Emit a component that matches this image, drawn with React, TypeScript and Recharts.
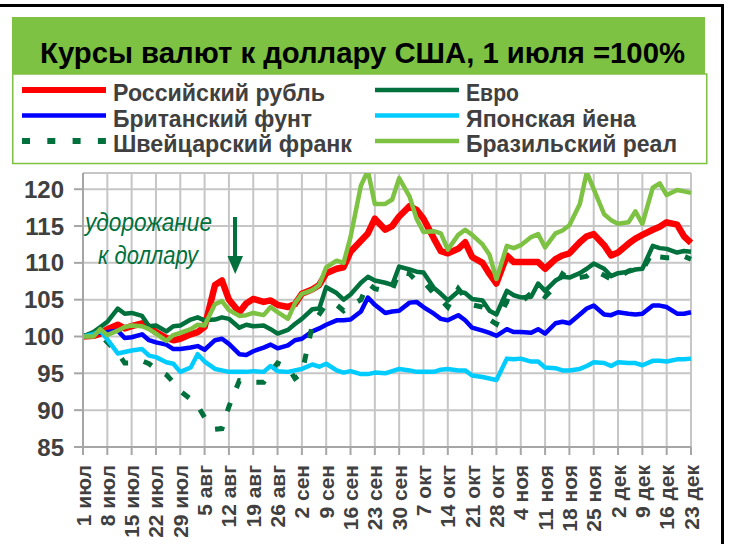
import { LineChart, Line, XAxis, YAxis, CartesianGrid } from 'recharts'

// дни от 1 июля (пн, ср, пт каждой недели)
const DAYS = [0, 3, 5, 7, 10, 12, 14, 17, 19, 21, 24, 26, 28, 31, 33, 35, 38, 40, 42, 45, 47, 49, 52, 54, 56, 59, 61, 63, 66, 68, 70, 73, 75, 77, 80, 82, 84, 87, 89, 91, 94, 96, 98, 101, 103, 105, 108, 110, 112, 115, 117, 119, 122, 124, 126, 129, 131, 133, 136, 138, 140, 143, 145, 147, 150, 152, 154, 157, 159, 161, 164, 166, 168, 171, 173, 175]

const TICK_LABELS = ['1 июл', '8 июл', '15 июл', '22 июл', '29 июл', '5 авг', '12 авг', '19 авг', '26 авг', '2 сен', '9 сен', '16 сен', '23 сен', '30 сен', '7 окт', '14 окт', '21 окт', '28 окт', '4 ноя', '11 ноя', '18 ноя', '25 ноя', '2 дек', '9 дек', '16 дек', '23 дек']
const Y_TICKS = [85, 90, 95, 100, 105, 110, 115, 120]

const RUB = [100, 100.1, 100.4, 101.0, 101.6, 101.1, 101.4, 101.8, 101.3, 100.6, 99.8, 99.5, 99.7, 100.3, 100.6, 101.3, 107.0, 107.6, 105.0, 103.3, 104.5, 105.1, 104.7, 104.9, 104.3, 104.0, 104.4, 105.8, 106.4, 107.0, 108.6, 109.2, 109.4, 111.5, 113.0, 114.0, 116.0, 114.5, 115.0, 116.3, 117.7, 117.2, 116.0, 113.3, 111.6, 111.3, 111.9, 112.8, 110.8, 110.0, 108.5, 107.2, 111.0, 110.1, 110.1, 110.1, 110.1, 109.2, 110.5, 111.0, 111.3, 112.8, 113.6, 113.9, 112.4, 111.0, 111.4, 112.6, 113.3, 113.8, 114.5, 114.9, 115.5, 115.2, 113.6, 112.7]
const EUR = [100, 100.6, 101.3, 102.0, 103.8, 103.1, 103.2, 102.8, 101.4, 101.5, 100.7, 101.4, 101.5, 102.3, 102.6, 102.2, 102.3, 102.6, 102.4, 101.2, 101.6, 101.4, 101.5, 101.0, 100.4, 100.9, 101.7, 102.4, 103.7, 103.8, 106.7, 105.9, 105.0, 105.7, 107.3, 108.1, 107.6, 107.3, 107.0, 109.5, 109.1, 108.8, 108.7, 106.6, 105.8, 104.9, 106.1, 105.9, 105.1, 104.9, 103.5, 103.0, 106.2, 105.6, 105.3, 105.4, 107.2, 106.2, 107.6, 108.1, 108.0, 108.6, 109.2, 109.9, 109.2, 108.2, 108.6, 108.8, 109.1, 109.2, 112.3, 112.0, 111.9, 111.4, 111.6, 111.5]
const GBP = [100, 100.5, 100.5, 100.6, 100.8, 99.8, 99.9, 100.3, 99.5, 99.2, 98.9, 98.3, 98.3, 98.5, 98.7, 98.2, 99.5, 99.7, 99.0, 97.6, 97.5, 98.0, 98.5, 98.9, 98.4, 98.8, 99.5, 99.7, 100.7, 101.1, 101.6, 102.2, 102.2, 102.3, 103.4, 105.3, 104.3, 103.2, 103.4, 103.5, 104.6, 104.7, 104.0, 103.1, 102.4, 102.2, 102.9, 102.2, 101.2, 100.8, 100.5, 100.1, 101.0, 100.6, 100.6, 100.5, 101.0, 100.4, 101.8, 102.0, 101.8, 103.0, 103.8, 104.2, 103.0, 102.9, 103.3, 103.1, 103.0, 103.1, 104.2, 104.2, 104.0, 103.1, 103.1, 103.3]
const JPY = [100, 100.3, 100.8, 99.6, 97.7, 97.9, 98.1, 98.3, 97.4, 97.2, 96.5, 96.3, 95.2, 95.8, 97.6, 96.6, 95.6, 95.4, 95.2, 95.2, 95.2, 95.3, 95.2, 96.0, 95.3, 95.2, 95.4, 95.6, 96.2, 95.9, 96.3, 95.4, 95.1, 95.3, 94.9, 94.9, 95.1, 95.0, 95.3, 95.6, 95.4, 95.2, 95.2, 95.2, 95.5, 95.6, 95.4, 95.4, 94.7, 94.5, 94.3, 94.1, 97.0, 96.9, 97.0, 96.6, 96.6, 95.8, 95.7, 95.4, 95.4, 95.6, 96.0, 96.5, 96.4, 96.0, 96.5, 96.4, 96.4, 96.1, 96.7, 96.7, 96.6, 96.9, 96.9, 97.0]
const CHF = [100, 100.4, 100.3, 99.2, 97.8, 96.4, 96.4, 96.7, 96.3, 95.6, 94.8, 93.8, 92.6, 91.5, 90.6, 89.0, 87.4, 87.5, 90.5, 94.0, 93.9, 93.8, 93.8, 95.2, 96.4, 95.8, 94.3, 95.0, 101.5, 103.0, 104.4, 104.3, 103.5, 104.2, 105.0, 107.2, 106.5, 106.2, 106.3, 108.8, 108.5, 107.5, 107.5, 105.8, 105.0, 104.0, 106.5, 105.3, 104.3, 104.0, 102.3, 101.7, 104.8, 104.5, 104.6, 105.9, 106.3, 105.4, 106.8, 108.5, 107.8, 108.0, 108.2, 109.0, 108.3, 107.8, 108.0, 108.9, 109.2, 109.0, 111.5, 110.8, 110.7, 110.7, 110.9, 110.5]
const BRL = [100, 100.0, 101.0, 100.2, 100.8, 101.3, 101.5, 101.4, 101.0, 100.4, 99.4, 100.2, 100.5, 101.0, 101.6, 101.5, 104.4, 104.8, 103.6, 102.8, 102.9, 103.2, 102.9, 104.0, 103.3, 102.4, 104.5, 105.8, 106.3, 107.0, 109.4, 110.3, 110.0, 113.5, 120.5, 122.5, 118.0, 118.0, 118.6, 121.5, 119.0, 116.0, 114.2, 114.3, 114.0, 111.8, 113.8, 114.5, 113.8, 112.5, 111.1, 107.8, 112.3, 112.0, 112.4, 113.5, 113.9, 112.1, 114.0, 114.4, 115.1, 118.0, 122.3, 120.0, 116.6, 115.8, 115.3, 115.5, 117.0, 115.3, 120.2, 120.8, 119.2, 119.9, 119.7, 119.5]

const RED = '#ff0000'
const DKGREEN = '#00703c'
const BLUE = '#0000ff'
const CYAN = '#00ccff'
const LTGREEN = '#7dc242'
const TEXT = '#404040'
const FONT = '"Liberation Sans", Arial, sans-serif'

const data = DAYS.map((day, i) => ({
  day, rub: RUB[i], eur: EUR[i], gbp: GBP[i], jpy: JPY[i], chf: CHF[i], brl: BRL[i],
}))

const LEGEND = [
  { name: 'Российский рубль', color: RED, w: 6, dash: undefined, col: 0, row: 0, len: 212 },
  { name: 'Евро', color: DKGREEN, w: 4.5, dash: undefined, col: 1, row: 0, len: 53 },
  { name: 'Британский фунт', color: BLUE, w: 4.5, dash: undefined, col: 0, row: 1, len: 199 },
  { name: 'Японская йена', color: CYAN, w: 4.5, dash: undefined, col: 1, row: 1, len: 170 },
  { name: 'Швейцарский франк', color: DKGREEN, w: 6, dash: '8 17.3', col: 0, row: 2, len: 239 },
  { name: 'Бразильский реал', color: LTGREEN, w: 4.5, dash: undefined, col: 1, row: 2, len: 211 },
]

function XTick(props: any) {
  const { x, y, payload } = props
  const label = TICK_LABELS[Math.round(payload.value / 7)]
  return (
    <text transform={`translate(${x},${y + 8}) rotate(-90)`} textAnchor="end" dominantBaseline="central"
      fontFamily={FONT} fontWeight="bold" fontSize={21} fill={TEXT}>{label}</text>
  )
}

function Overlay() {
  const colX = [22, 375]
  const baseY = [101, 126.5, 152]
  return (
    <svg width={731} height={544} style={{ position: 'absolute', left: 0, top: 0, pointerEvents: 'none' }}>
      <rect x={0} y={4} width={724} height={3} fill="#000" />
      <rect x={721} y={4} width={3} height={540} fill="#000" />
      <rect x={12} y={17} width={693} height={57} fill={LTGREEN} />
      <text x={362.5} y={62.5} textAnchor="middle" fontFamily={FONT} fontWeight="bold" fontSize={30} fill="#000"
        textLength={645} lengthAdjust="spacingAndGlyphs">Курсы валют к доллару США, 1 июля =100%</text>
      <rect x={12.75} y={74} width={694} height={89.5} fill="#fff" stroke={LTGREEN} strokeWidth={1.5} />
      {LEGEND.map((s) => (
        <g key={s.name}>
          <line x1={colX[s.col]} x2={colX[s.col] + 84} y1={baseY[s.row] - 11} y2={baseY[s.row] - 11}
            stroke={s.color} strokeWidth={s.w} strokeDasharray={s.dash} />
          <text x={colX[s.col] + 91} y={baseY[s.row]} fontFamily={FONT} fontWeight="bold" fontSize={24} fill={TEXT}
            textLength={s.len} lengthAdjust="spacingAndGlyphs">{s.name}</text>
        </g>
      ))}
      <text x={85} y={231} fontFamily={FONT} fontStyle="italic" fontSize={25} fill={DKGREEN}
        textLength={127} lengthAdjust="spacingAndGlyphs">удорожание</text>
      <text x={98} y={264} fontFamily={FONT} fontStyle="italic" fontSize={25} fill={DKGREEN}
        textLength={100} lengthAdjust="spacingAndGlyphs">к доллару</text>
      <rect x={233} y={217} width={4} height={41} fill={DKGREEN} />
      <polygon points="227.5,256 243,256 235.2,274" fill={DKGREEN} />
    </svg>
  )
}

export default function App() {
  return (
    <div style={{ position: 'absolute', left: 0, top: 0, width: 731, height: 544, background: '#fff' }}>
      <LineChart width={731} height={544} data={data} margin={{ top: 173, right: 40, bottom: 0, left: 0 }}>
        <CartesianGrid stroke="#c6c6c6" strokeWidth={2} />
        <XAxis dataKey="day" type="number" domain={[0, 175]} ticks={TICK_LABELS.map((_, i) => i * 7)}
          height={97} tickSize={8} tick={<XTick />} interval={0}
          axisLine={{ stroke: '#a6a6a6', strokeWidth: 2 }} tickLine={{ stroke: '#a6a6a6', strokeWidth: 2 }} />
        <YAxis domain={[85, 122.2]} ticks={Y_TICKS} allowDataOverflow width={83} tickSize={9} tickMargin={10}
          tick={{ fontFamily: FONT, fontWeight: 'bold', fontSize: 24, fill: TEXT }}
          axisLine={{ stroke: '#a6a6a6', strokeWidth: 2 }} tickLine={{ stroke: '#a6a6a6', strokeWidth: 2 }} />
        <Line dataKey="rub" stroke={RED} strokeWidth={6.5} dot={false} isAnimationActive={false} strokeLinejoin="round" />
        <Line dataKey="gbp" stroke={BLUE} strokeWidth={4.5} dot={false} isAnimationActive={false} strokeLinejoin="round" />
        <Line dataKey="chf" stroke={DKGREEN} strokeWidth={5} strokeDasharray="9 16" dot={false} isAnimationActive={false} />
        <Line dataKey="eur" stroke={DKGREEN} strokeWidth={4.5} dot={false} isAnimationActive={false} strokeLinejoin="round" />
        <Line dataKey="jpy" stroke={CYAN} strokeWidth={4.5} dot={false} isAnimationActive={false} strokeLinejoin="round" />
        <Line dataKey="brl" stroke={LTGREEN} strokeWidth={4.5} dot={false} isAnimationActive={false} strokeLinejoin="round" />
      </LineChart>
      <Overlay />
    </div>
  )
}
